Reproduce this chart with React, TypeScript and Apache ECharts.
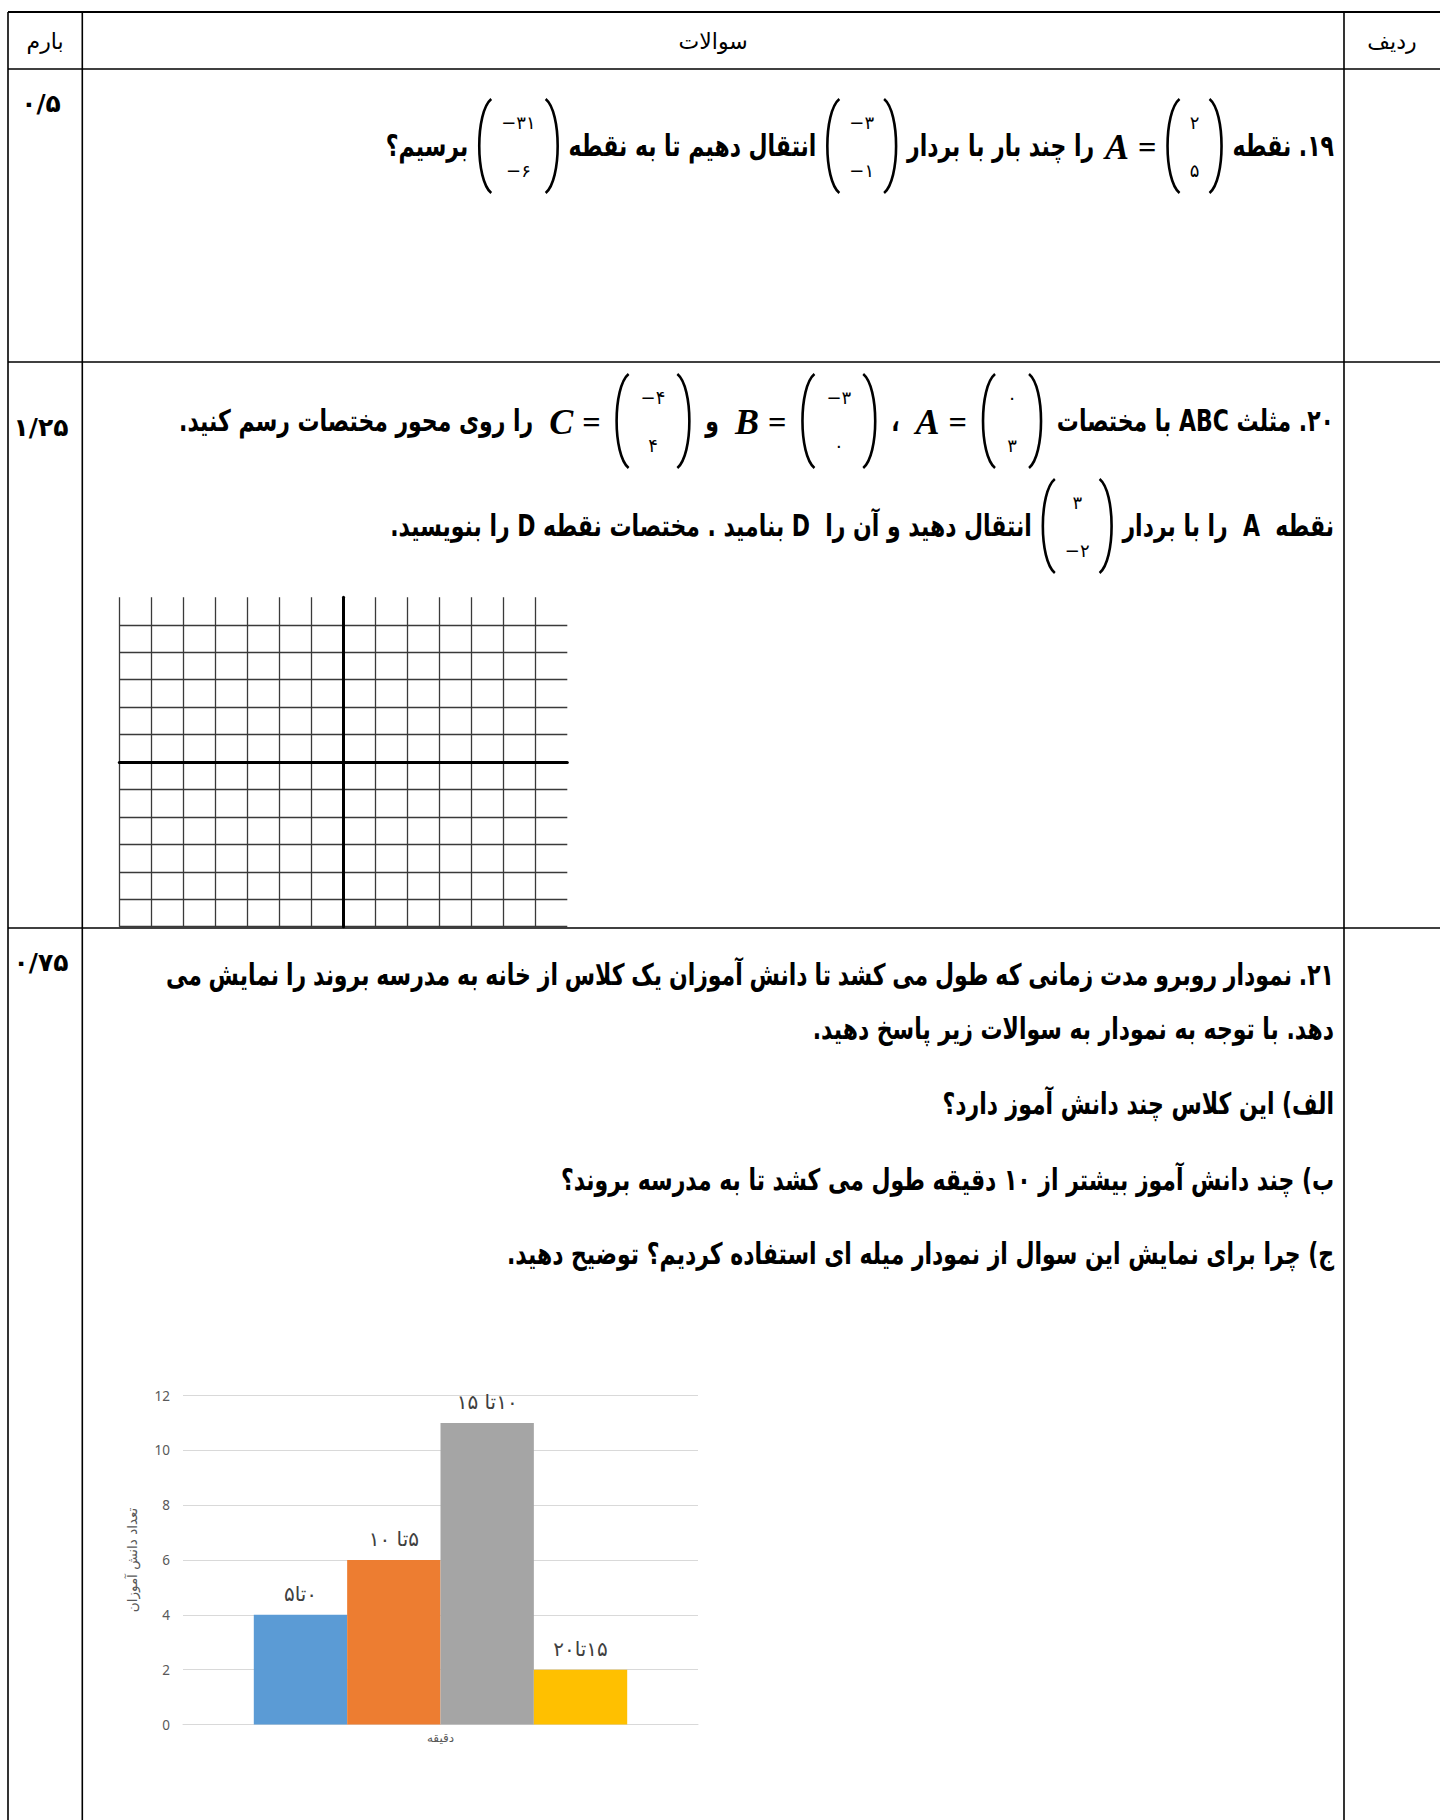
import React, { useEffect, useRef } from 'react';
import * as echarts from 'echarts';

const PAGE_W = 1440;
const PAGE_H = 1820;

// ---------- bar chart (question 21) ----------
const barCategories = ['دقیقه'];
const barSeriesNames = ['۰تا۵', '۵تا ۱۰', '۱۰تا ۱۵', '۱۵تا۲۰'];
const barValues = [4, 6, 11, 2];
const barColors = ['#5b9bd5', '#ed7d31', '#a5a5a5', '#ffc000'];
const barYAxisName = 'تعداد دانش آموزان';
const barYMin = 0;
const barYMax = 12;
const barYInterval = 2;

// ---------- blank coordinate plane (question 20) ----------
const planeXRange = [-7, 7];
const planeYRange = [-6, 6];

// ---------- table texts ----------
const headerTitles = ['بارم', 'سوالات', 'ردیف'];
const scoreLabels = ['۰/۵', '۱/۲۵', '۰/۷۵'];

type Item =
  | { t: 'text'; s: string }
  | { t: 'math'; s: string }
  | { t: 'mat'; a: string; b: string };

const q19Line: Item[] = [
  { t: 'text', s: '۱۹. نقطه' },
  { t: 'mat', a: '۲', b: '۵' },
  { t: 'math', s: 'A' },
  { t: 'text', s: 'را چند بار با بردار' },
  { t: 'mat', a: '−۳', b: '−۱' },
  { t: 'text', s: 'انتقال دهیم تا به نقطه' },
  { t: 'mat', a: '−۳۱', b: '−۶' },
  { t: 'text', s: 'برسیم؟' },
];
const q20Line1: Item[] = [
  { t: 'text', s: '۲۰. مثلث ABC با مختصات' },
  { t: 'mat', a: '۰', b: '۳' },
  { t: 'math', s: 'A' },
  { t: 'text', s: '،' },
  { t: 'mat', a: '−۳', b: '۰' },
  { t: 'math', s: 'B' },
  { t: 'text', s: 'و' },
  { t: 'mat', a: '−۴', b: '۴' },
  { t: 'math', s: 'C' },
  { t: 'text', s: 'را روی محور مختصات رسم کنید.' },
];
const q20Line2: Item[] = [
  { t: 'text', s: 'نقطه  A  را با بردار' },
  { t: 'mat', a: '۳', b: '−۲' },
  { t: 'text', s: 'انتقال دهید و آن را  D بنامید . مختصات نقطه D را بنویسید.' },
];
const q21Lines = [
  '۲۱. نمودار روبرو مدت زمانی که طول می کشد تا دانش آموزان یک کلاس از خانه به مدرسه بروند را نمایش می',
  'دهد. با توجه به نمودار به سوالات زیر پاسخ دهید.',
  'الف) این کلاس چند دانش آموز دارد؟',
  'ب) چند دانش آموز بیشتر از ۱۰ دقیقه طول می کشد تا به مدرسه بروند؟',
  'ج) چرا برای نمایش این سوال از نمودار میله ای استفاده کردیم؟ توضیح دهید.',
];

const RLE = '\u202B';
const PDF = '\u202C';
const rtl = (s: string) => RLE + s + PDF;

const QFAM = 'DejaVu Sans Condensed, DejaVu Sans, sans-serif';
const NUMFAM = 'DejaVu Sans, sans-serif';
const MATHFAM = 'Liberation Serif, DejaVu Serif, serif';
const Q_SCALE_Y = 1.22;

export default function App() {
  const ref = useRef<HTMLDivElement>(null);

  useEffect(() => {
    if (!ref.current) return;
    const cv = document.createElement('canvas');
    const ctx = cv.getContext('2d')!;
    const measure = (s: string, font: string) => {
      ctx.font = font;
      return ctx.measureText(s).width;
    };

    // fit the question font size to the text width of the reference lines
    const probe = measure(rtl(q21Lines[0]), `bold 24px ${QFAM}`);
    let QFS = (24 * 1185) / probe;
    QFS = Math.max(18, Math.min(28, QFS));
    const qFont = `bold ${QFS}px ${QFAM}`;
    const MATFS = 18;
    const matFont = `${MATFS}px ${NUMFAM}`;
    const MATHFS = 36;
    const mathFont = `italic bold ${MATHFS}px ${MATHFAM}`;
    const eqFont = `bold ${MATHFS * 0.9}px ${MATHFAM}`;

    const els: any[] = [];
    const text = (x: number, y: number, s: string, o: any) => {
      els.push({
        type: 'text',
        x,
        y,
        scaleY: o.sy || 1,
        silent: true,
        style: {
          text: s,
          fill: o.fill || '#000',
          fontSize: o.fontSize,
          fontFamily: o.fontFamily,
          fontWeight: o.fontWeight || 'normal',
          fontStyle: o.fontStyle || 'normal',
          textAlign: o.align || 'left',
          align: o.align || 'left',
          textVerticalAlign: 'middle',
          verticalAlign: 'middle',
        },
      });
    };
    const line = (x1: number, y1: number, x2: number, y2: number, w: number, c = '#000') => {
      els.push({
        type: 'line',
        silent: true,
        shape: { x1, y1, x2, y2 },
        style: { stroke: c, lineWidth: w },
      });
    };
    const paren = (xInner: number, xOuter: number, top: number, bot: number) => {
      const h = bot - top;
      const cx = xInner + ((xOuter - xInner) * 4) / 3;
      els.push({
        type: 'bezierCurve',
        silent: true,
        shape: {
          x1: xInner, y1: top, x2: xInner, y2: bot,
          cpx1: cx, cpy1: top + h * 0.14, cpx2: cx, cpy2: bot - h * 0.14,
        },
        style: { stroke: '#000', lineWidth: 2.6, fill: null },
      });
    };

    const flow = (items: Item[], xRight: number, yc: number, gap: number, pad: number) => {
      let x = xRight;
      items.forEach((it, i) => {
        if (i > 0) x -= gap;
        if (it.t === 'text') {
          const s = rtl(it.s);
          text(x, yc, s, { fontSize: QFS, fontFamily: QFAM, fontWeight: 'bold', align: 'right', sy: Q_SCALE_Y });
          x -= measure(s, qFont);
        } else if (it.t === 'math') {
          // "X =" : equals sign on the right, italic letter on the left
          text(x, yc + 1, '=', { fontSize: MATHFS * 0.9, fontFamily: MATHFAM, fontWeight: 'bold', align: 'right' });
          x -= measure('=', eqFont) + 9;
          text(x, yc + 1, it.s, { fontSize: MATHFS, fontFamily: MATHFAM, fontWeight: 'bold', fontStyle: 'italic', align: 'right' });
          x -= measure(it.s, mathFont);
        } else {
          const ew = Math.max(measure(it.a, matFont), measure(it.b, matFont), 10);
          const pw = 12;
          const w = ew + 2 * (pw + pad);
          const left = x - w;
          const top = yc - 47;
          const bot = yc + 47;
          paren(left + pw, left, top, bot);
          paren(x - pw, x, top, bot);
          text(left + w / 2, yc - 24, it.a, { fontSize: MATFS, fontFamily: NUMFAM, align: 'center' });
          text(left + w / 2, yc + 24, it.b, { fontSize: MATFS, fontFamily: NUMFAM, align: 'center' });
          x -= w;
        }
      });
    };

    // ----- table -----
    const tL = 8, tC1 = 82.3, tC2 = 1344, tR = 1440;
    const rows = [12, 69, 362, 928];
    rows.forEach((y, i) => line(tL, y, tR, y, i === 0 ? 2 : 1.6));
    [tL, tC1, tC2].forEach((x) => line(x, 12, x, PAGE_H, 1.6));

    text((tL + tC1) / 2, 41, headerTitles[0], { fontSize: 22, fontFamily: NUMFAM, align: 'center' });
    text((tC1 + tC2) / 2, 41, headerTitles[1], { fontSize: 22, fontFamily: NUMFAM, align: 'center' });
    text((tC2 + tR) / 2, 41, headerTitles[2], { fontSize: 22, fontFamily: NUMFAM, align: 'center' });

    const scoreY = [103, 427, 962];
    scoreLabels.forEach((s, i) =>
      text(41, scoreY[i], s, { fontSize: 25, fontFamily: NUMFAM, fontWeight: 'bold', align: 'center' })
    );

    // ----- questions -----
    const xRight = 1334;
    flow(q19Line, xRight, 146, QFS * 0.45, 10);
    flow(q20Line1, xRight, 421, 16, 12);
    flow(q20Line2, xRight, 526, QFS * 0.45, 10);

    // Q21 line 1 justified between the text margins
    {
      const words = q21Lines[0].split(' ');
      const ws = words.map((w) => measure(rtl(w), qFont));
      const total = ws.reduce((a, b) => a + b, 0);
      const target = 1334 - 166;
      const g = Math.max(measure(' ', qFont) * 0.5, (target - total) / (words.length - 1));
      let x = xRight;
      words.forEach((w, i) => {
        text(x, 975, rtl(w), { fontSize: QFS, fontFamily: QFAM, fontWeight: 'bold', align: 'right', sy: Q_SCALE_Y });
        x -= ws[i] + g;
      });
    }
    const q21Y = [975, 1029, 1104, 1180, 1254];
    for (let i = 1; i < q21Lines.length; i++) {
      text(xRight, q21Y[i], rtl(q21Lines[i]), { fontSize: QFS, fontFamily: QFAM, fontWeight: 'bold', align: 'right', sy: Q_SCALE_Y });
    }

    const chart = echarts.init(ref.current, null, { renderer: 'svg', width: PAGE_W, height: PAGE_H });
    chart.setOption({
      animation: false,
      backgroundColor: '#fff',
      grid: [
        { left: 183, top: 1395.5, width: 515, height: 329 },
        { left: 119.3, top: 597.3, width: 448, height: 329.4 },
      ],
      xAxis: [
        {
          gridIndex: 0,
          type: 'category',
          data: barCategories,
          axisLine: { lineStyle: { color: '#d9d9d9', width: 1 } },
          axisTick: { show: false },
          axisLabel: { color: '#595959', fontSize: 12, margin: 7, fontFamily: NUMFAM },
        },
        {
          gridIndex: 1,
          type: 'value',
          min: planeXRange[0],
          max: planeXRange[1],
          interval: 1,
          axisLine: { onZero: true, lineStyle: { color: '#000', width: 3 } },
          axisTick: { show: false },
          axisLabel: { show: false },
          splitLine: { show: true, showMaxLine: false, lineStyle: { color: '#3a3a3a', width: 1.3 } },
        },
      ],
      yAxis: [
        {
          gridIndex: 0,
          type: 'value',
          min: barYMin,
          max: barYMax,
          interval: barYInterval,
          name: barYAxisName,
          nameLocation: 'middle',
          nameRotate: 90,
          nameGap: 44,
          nameTextStyle: { color: '#595959', fontSize: 13.5, fontFamily: NUMFAM },
          axisLine: { show: false },
          axisTick: { show: false },
          axisLabel: { color: '#595959', fontSize: 13.5, margin: 13, fontFamily: 'Noto Sans, sans-serif' },
          splitLine: { lineStyle: { color: '#d9d9d9', width: 1 } },
        },
        {
          gridIndex: 1,
          type: 'value',
          min: planeYRange[0],
          max: planeYRange[1],
          interval: 1,
          axisLine: { onZero: true, lineStyle: { color: '#000', width: 3 } },
          axisTick: { show: false },
          axisLabel: { show: false },
          splitLine: { show: true, showMaxLine: false, lineStyle: { color: '#3a3a3a', width: 1.3 } },
        },
      ],
      series: [
        ...barSeriesNames.map((name, i) => ({
          type: 'bar',
          name,
          xAxisIndex: 0,
          yAxisIndex: 0,
          data: [barValues[i]],
          barWidth: 93.35,
          barGap: '0%',
          itemStyle: { color: barColors[i] },
          label: {
            show: true,
            position: 'top',
            distance: 11,
            formatter: () => rtl(name),
            fontSize: 20,
            color: '#404040',
            fontFamily: NUMFAM,
          },
        })),
        { type: 'scatter', xAxisIndex: 1, yAxisIndex: 1, data: [] },
      ],
      graphic: { elements: els },
    });
    return () => chart.dispose();
  }, []);

  return (
    <div
      ref={ref}
      style={{ position: 'absolute', left: 0, top: 0, width: PAGE_W, height: PAGE_H, background: '#fff' }}
    />
  );
}
